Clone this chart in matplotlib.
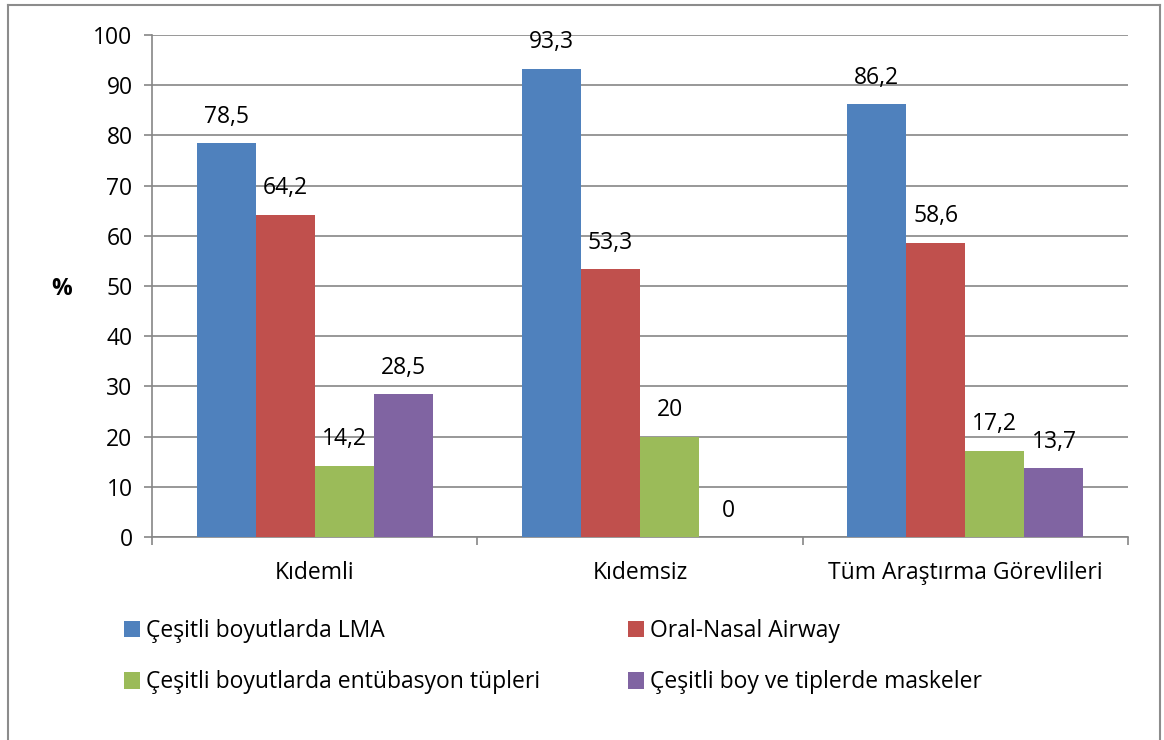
import matplotlib
matplotlib.use("Agg")
import matplotlib.pyplot as plt
from matplotlib.lines import Line2D
from matplotlib.patches import Patch
import numpy as np

categories = ["Kıdemli", "Kıdemsiz", "Tüm Araştırma Görevlileri"]
series_names = ["Çeşitli boyutlarda LMA", "Oral-Nasal Airway",
                "Çeşitli boyutlarda entübasyon tüpleri", "Çeşitli boy ve tiplerde maskeler"]
lma = [78.5, 93.3, 86.2]
airway = [64.2, 53.3, 58.6]
tubes = [14.2, 20, 17.2]
masks = [28.5, 0, 13.7]
label_text = [["78,5", "93,3", "86,2"], ["64,2", "53,3", "58,6"],
              ["14,2", "20", "17,2"], ["28,5", "0", "13,7"]]
yticks = [0, 10, 20, 30, 40, 50, 60, 70, 80, 90, 100]
colors = ["#4F81BD", "#C0504D", "#9BBB59", "#8064A2"]

FS = 16.5
plt.rcParams['font.family'] = ['Open Sans', 'DejaVu Sans']
W, H = 1164, 740
fig = plt.figure(figsize=(W / 100, H / 100), dpi=100)
ax = fig.add_axes([152 / W, 1 - 537 / H, 976 / W, 502 / H])

grid_c = "#868686"
x = np.arange(len(categories))
bw = 59 / 325
series = [lma, airway, tubes, masks]
for i, (vals, c) in enumerate(zip(series, colors)):
    pos = x + (i - 1.5) * bw
    ax.bar(pos, vals, width=bw, color=c, zorder=3, label=series_names[i])
    for p, v, t in zip(pos, vals, label_text[i]):
        ax.annotate(t, (p, v), xytext=(0, 19), textcoords="offset points",
                    ha="center", va="center", fontsize=FS, color="black")

ax.set_xlim(-0.5, len(categories) - 0.5)
ax.set_ylim(0, 100)
ax.set_yticks(yticks)
ax.set_yticklabels([str(t) for t in yticks], fontsize=FS)
ax.yaxis.grid(True, color=grid_c, linewidth=1.2, zorder=0)
ax.set_axisbelow(True)
ax.set_xticks(np.arange(-0.5, len(categories) + 0.5, 1))
ax.set_xticklabels([])
ax.set_xticks(x, minor=True)
ax.set_xticklabels(categories, minor=True, fontsize=FS)
ax.tick_params(axis="x", which="minor", length=0, pad=17)
ax.tick_params(axis="x", which="major", length=6, color=grid_c, width=1.2, direction="out")
ax.tick_params(axis="y", length=6, color=grid_c, width=1.2, pad=8)
for s in ["top", "right"]:
    ax.spines[s].set_visible(False)
for s in ["left", "bottom"]:
    ax.spines[s].set_color(grid_c)
    ax.spines[s].set_linewidth(1.2)

fig.text(62 / W, 1 - 289 / H, "%", fontsize=FS, fontweight="bold", ha="center", va="center")

order = [0, 2, 1, 3]
handles = [Patch(facecolor=colors[k]) for k in order]
labels = [series_names[k] for k in order]
fig.legend(handles, labels, loc="upper left", bbox_to_anchor=(124 / W, 1 - 619 / H),
           ncol=2, frameon=False, fontsize=FS, handlelength=0.7, handleheight=0.7,
           handletextpad=0.28, columnspacing=3.8, labelspacing=1.2, borderpad=0,
           borderaxespad=0)

# outer chart border
bc = "#8C8C8C"
fig.add_artist(Line2D([8 / W, 8 / W], [0, 1 - 5 / H], color=bc, lw=1.5, transform=fig.transFigure))
fig.add_artist(Line2D([8 / W, 1160 / W], [1 - 5 / H, 1 - 5 / H], color=bc, lw=1.5, transform=fig.transFigure))
fig.add_artist(Line2D([1160 / W, 1160 / W], [0, 1 - 5 / H], color=bc, lw=1.5, transform=fig.transFigure))

fig.savefig("out.png", dpi=100)
